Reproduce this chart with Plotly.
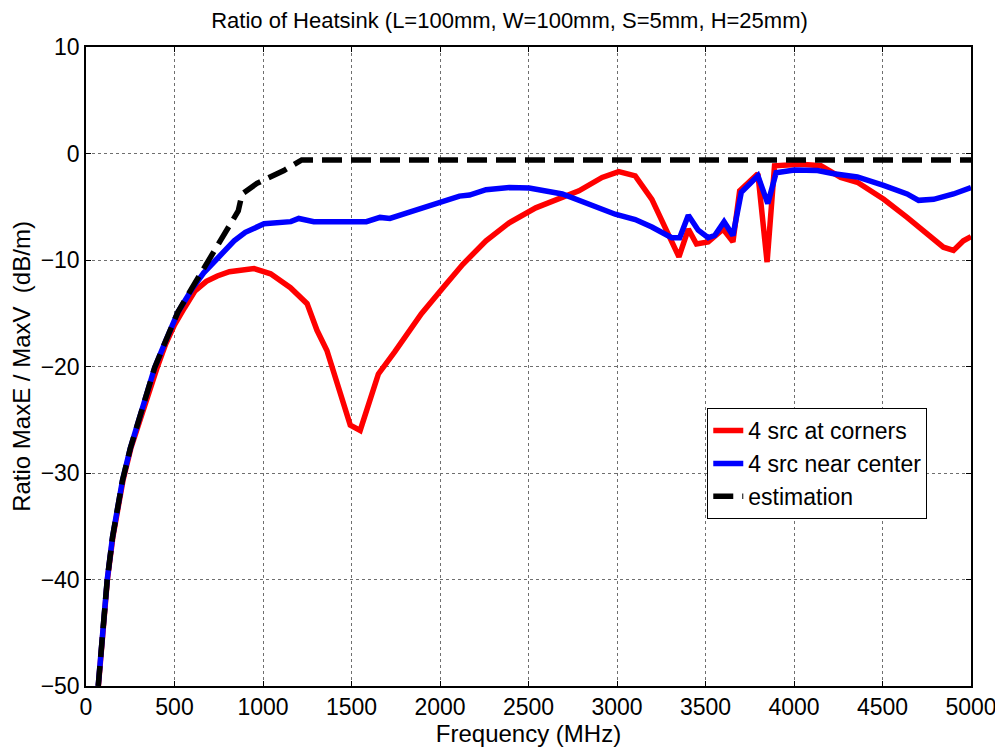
import plotly.graph_objects as go

# Estimation curve
est_f = [69, 79, 95, 120, 150, 172, 206, 250, 285, 330, 388, 450, 519, 600, 697,
         760, 820, 860, 882, 966, 1118, 1219, 2000, 3000, 4000, 5000]
est_v = [-50, -47.9, -44, -40, -36, -33.8, -30.7, -27.7, -25.8, -23.1, -20.1, -17.6,
         -14.9, -12.6, -10, -8.3, -6.6, -5.4, -3.8, -2.8, -1.6, -0.6, -0.6, -0.6, -0.6, -0.6]

# 4 src near center
blue_f = [69, 79, 95, 120, 150, 172, 206, 250, 285, 330, 388, 450, 519, 600, 665, 734,
          790, 837, 900, 1006, 1157, 1202, 1287, 1584, 1661, 1717, 1810, 1978,
          2110, 2167, 2260, 2391, 2504, 2691, 2841, 2990, 3103, 3197, 3309, 3354,
          3403, 3459, 3515, 3552, 3605, 3655, 3702, 3796, 3852, 3899, 4002, 4133,
          4225, 4358, 4506, 4639, 4704, 4789, 4901, 5000]
blue_v = [-50, -47.9, -44, -40, -36, -33.8, -30.7, -27.7, -25.8, -23.1, -20.1, -17.6,
          -14.9, -12.7, -11.2, -10, -9.0, -8.2, -7.4, -6.6, -6.4, -6.1, -6.4, -6.4,
          -6.0, -6.1, -5.6, -4.7, -4.0, -3.9, -3.4, -3.2, -3.25, -3.8, -4.7, -5.7,
          -6.2, -6.9, -7.9, -7.9, -5.8, -7.2, -7.9, -7.7, -6.4, -7.7, -3.65, -2.1,
          -4.7, -1.8, -1.55, -1.6, -1.9, -2.2, -3.0, -3.8, -4.4, -4.3, -3.8, -3.2]

# 4 src at corners
red_f = [70, 80, 96, 121, 152, 174, 209, 253, 290, 336, 400, 450, 500, 556, 616,
         680, 742, 810, 875, 949, 1043, 1155, 1249, 1305, 1361, 1493, 1549,
         1652, 1745, 1895, 2017, 2129, 2260, 2391, 2541, 2654, 2785, 2916,
         3010, 3103, 3197, 3290, 3350, 3403, 3449, 3515, 3599, 3655, 3693,
         3796, 3848, 3890, 4039, 4152, 4264, 4358, 4507, 4639, 4732, 4844,
         4901, 4957, 5000]
red_v = [-50, -47.9, -44, -40, -36, -33.8, -30.7, -27.7, -25.8, -23.1, -20.2, -17.9,
         -16.1, -14.5, -12.9, -12.0, -11.5, -11.1, -10.9, -10.8, -11.3, -12.6, -14.1,
         -16.6, -18.5, -25.5, -26.0, -20.7, -18.6, -15.05, -12.6, -10.4, -8.2, -6.5,
         -5.1, -4.3, -3.5, -2.25, -1.7, -2.1, -4.3, -7.6, -9.7, -7.1, -8.5, -8.3,
         -7.1, -8.3, -3.5, -1.9, -10.2, -1.15, -1.0, -1.15, -2.25, -2.7, -4.3, -6.0,
         -7.25, -8.8, -9.1, -8.2, -7.8]

x_ticks = [0, 500, 1000, 1500, 2000, 2500, 3000, 3500, 4000, 4500, 5000]
y_ticks = [-50, -40, -30, -20, -10, 0, 10]

FONT = "Liberation Sans, Arial, sans-serif"

fig = go.Figure()
fig.add_trace(go.Scatter(x=red_f, y=red_v, mode="lines", name="4 src at corners",
                         line=dict(color="#ff0000", width=5.5)))
fig.add_trace(go.Scatter(x=blue_f, y=blue_v, mode="lines", name="4 src near center",
                         line=dict(color="#0000ff", width=5.5)))
fig.add_trace(go.Scatter(x=est_f, y=est_v, mode="lines", name="estimation",
                         line=dict(color="#000000", width=5.5, dash="20px,9px")))

axis_common = dict(showline=True, linecolor="black", linewidth=1.5, mirror="ticks",
                   ticks="inside", ticklen=5, tickcolor="black",
                   showgrid=True, gridcolor="#6f6f6f", griddash="dot", gridwidth=1,
                   zeroline=False, tickfont=dict(size=23, color="black", family=FONT))

fig.update_layout(
    width=1003, height=749,
    margin=dict(l=73, r=40, t=39, b=71),
    paper_bgcolor="white", plot_bgcolor="white",
    font=dict(family=FONT, color="black"),
    title=dict(text="Ratio of Heatsink (L=100mm, W=100mm, S=5mm, H=25mm)",
               x=0.5, xanchor="center", y=0.983, yanchor="middle",
               font=dict(size=22, color="black")),
    xaxis=dict(range=[0, 5000], tickvals=x_ticks,
               title=dict(text="Frequency (MHz)", font=dict(size=24), standoff=0),
               **axis_common),
    yaxis=dict(range=[-50, 10], tickvals=y_ticks,
               title=dict(text="Ratio MaxE / MaxV  (dB/m)", font=dict(size=24), standoff=4),
               **axis_common),
    showlegend=True,
    legend=dict(x=0.702, y=0.435, xanchor="left", yanchor="top",
                bgcolor="white", bordercolor="black", borderwidth=1,
                font=dict(size=23, color="black"), tracegroupgap=0,
                itemwidth=30),
)

fig.write_html("out.html")
